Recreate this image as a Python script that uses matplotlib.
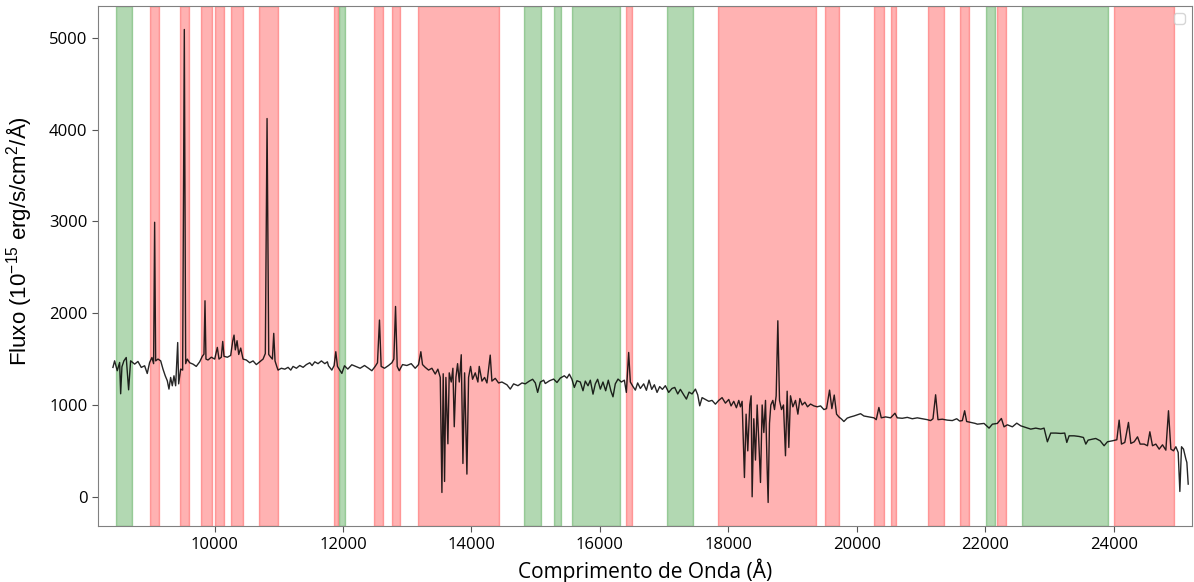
import matplotlib.pyplot as plt

# spectrum (wavelength in Angstrom, flux in 1e-15 erg/s/cm2/A)
wave = [8419, 8445, 8486, 8523, 8539, 8559, 8590, 8626, 8663, 8694, 8757, 8808, 8860, 8912,
        8953, 8990, 9026, 9052, 9068, 9084, 9120, 9162, 9198, 9233, 9265, 9291, 9317, 9343,
        9369, 9395, 9427, 9442, 9473, 9504, 9530, 9551, 9576, 9613, 9665, 9716, 9769, 9810,
        9836, 9852, 9867, 9899, 9950, 10003, 10044, 10070, 10106, 10128, 10148, 10200, 10252,
        10284, 10304, 10324, 10351, 10377, 10408, 10444, 10495, 10548, 10600, 10651, 10704,
        10756, 10791, 10818, 10844, 10876, 10901, 10922, 10942, 10969, 10989, 11041, 11094,
        11145, 11187, 11223, 11275, 11327, 11379, 11430, 11483, 11519, 11561, 11612, 11664,
        11717, 11757, 11774, 11826, 11862, 11888, 11914, 11956, 11982, 12023, 12075, 12137,
        12200, 12267, 12335, 12397, 12449, 12501, 12537, 12568, 12594, 12646, 12709, 12761,
        12792, 12818, 12844, 12875, 12927, 12994, 13062, 13124, 13176, 13212, 13238, 13280,
        13332, 13384, 13436, 13477, 13514, 13540, 13560, 13581, 13602, 13633, 13654, 13685,
        13711, 13732, 13758, 13784, 13810, 13841, 13867, 13893, 13929, 13955, 13986, 14017,
        14059, 14100, 14121, 14163, 14204, 14241, 14292, 14318, 14370, 14422, 14474, 14552,
        14604, 14656, 14723, 14786, 14838, 14900, 14952, 14994, 15030, 15072, 15124, 15149,
        15216, 15279, 15331, 15383, 15445, 15486, 15523, 15564, 15601, 15642, 15694, 15736,
        15772, 15814, 15850, 15892, 15928, 15964, 16006, 16047, 16089, 16130, 16172, 16203,
        16239, 16281, 16333, 16380, 16411, 16447, 16473, 16515, 16551, 16587, 16629, 16681,
        16723, 16764, 16806, 16847, 16889, 16930, 16972, 17018, 17070, 17122, 17164, 17211,
        17252, 17304, 17346, 17387, 17434, 17486, 17522, 17553, 17590, 17642, 17694, 17745,
        17797, 17849, 17901, 17953, 18005, 18041, 18083, 18124, 18161, 18187, 18213, 18249,
        18275, 18301, 18332, 18353, 18369, 18395, 18421, 18447, 18473, 18499, 18525, 18551,
        18577, 18603, 18618, 18639, 18660, 18691, 18717, 18743, 18769, 18795, 18826, 18857,
        18888, 18914, 18940, 18966, 19003, 19044, 19081, 19112, 19148, 19190, 19231, 19278,
        19330, 19382, 19434, 19486, 19527, 19574, 19610, 19647, 19683, 19719, 19761, 19797,
        19849, 19901, 19953, 20005, 20057, 20109, 20187, 20265, 20301, 20342, 20379, 20446,
        20524, 20592, 20628, 20706, 20784, 20862, 20940, 21018, 21095, 21147, 21184, 21225,
        21262, 21329, 21407, 21485, 21553, 21599, 21641, 21677, 21708, 21770, 21838, 21875,
        21979, 22057, 22109, 22186, 22249, 22290, 22342, 22420, 22488, 22550, 22628, 22706,
        22784, 22862, 22913, 22965, 23017, 23095, 23173, 23235, 23267, 23303, 23381, 23459,
        23526, 23563, 23599, 23667, 23718, 23786, 23848, 23900, 23978, 24046, 24082, 24118,
        24170, 24227, 24264, 24316, 24368, 24409, 24471, 24523, 24560, 24601, 24653, 24705,
        24757, 24809, 24850, 24887, 24928, 24965, 25001, 25027, 25053, 25084, 25121, 25136,
        25157]
flux = [1409, 1481, 1373, 1463, 1122, 1416, 1481, 1517, 1165, 1481, 1445, 1474, 1409, 1427,
        1343, 1463, 1517, 1450, 2990, 1480, 1500, 1481, 1391, 1318, 1264, 1173, 1300, 1209,
        1318, 1209, 1680, 1230, 1391, 1380, 5090, 1450, 1500, 1460, 1445, 1420, 1470, 1530,
        1554, 2135, 1500, 1490, 1520, 1500, 1627, 1500, 1520, 1692, 1530, 1520, 1540,
        1699, 1761, 1600, 1700, 1550, 1620, 1500, 1490, 1460, 1480, 1440, 1470,
        1500, 1560, 4120, 1550, 1520, 1500, 1780, 1480, 1420, 1380, 1400, 1390,
        1410, 1380, 1420, 1400, 1430, 1410, 1440, 1460, 1430, 1470, 1450, 1480,
        1450, 1470, 1427, 1380, 1430, 1580, 1420, 1373, 1344, 1427, 1391, 1438,
        1420, 1400, 1430, 1400, 1373, 1420, 1460, 1925, 1420, 1400, 1430, 1460,
        1500, 2073, 1420, 1373, 1440, 1430, 1450, 1400, 1440, 1580, 1440, 1410,
        1380, 1400, 1337, 1390, 1300, 47, 1340, 167, 1300, 577, 1350, 1250,
        1400, 763, 1300, 1450, 1250, 1547, 363, 1350, 247, 1300, 1420, 1280,
        1350, 1250, 1420, 1260, 1300, 1240, 1543, 1260, 1290, 1240, 1250, 1220,
        1173, 1230, 1210, 1240, 1230, 1260, 1280, 1240, 1137, 1250, 1270, 1234,
        1264, 1282, 1245, 1293, 1318, 1293, 1336, 1280, 1191, 1264, 1250, 1155,
        1260, 1209, 1270, 1118, 1230, 1280, 1173, 1250, 1155, 1270, 1150, 1089,
        1230, 1282, 1250, 1270, 1137, 1572, 1250, 1200, 1162, 1240, 1180, 1230,
        1160, 1271, 1170, 1220, 1137, 1200, 1170, 1210, 1137, 1180, 1191, 1120,
        1170, 1110, 1064, 1140, 1120, 1173, 1110, 991, 1080, 1060, 1040, 1050,
        1009, 1050, 1080, 1020, 1060, 990, 1040, 970, 1050, 980, 1040, 210,
        900, 500, 1000, 1100, 0, 850, 400, 1000, 600, 156, 1000, 700,
        1050, 300, -62, 800, 1000, 1050, 950, 1100, 1917, 1050, 950, 1000,
        447, 1150, 537, 1100, 980, 1050, 900, 1070, 1000, 1030, 980, 1010,
        990, 980, 990, 950, 960, 1162, 960, 1108, 900, 870, 846, 820,
        857, 870, 880, 893, 905, 880, 870, 860, 840, 973, 860, 870,
        860, 910, 860, 855, 865, 850, 860, 850, 840, 830, 850, 1111,
        840, 845, 835, 830, 850, 825, 830, 937, 820, 810, 800, 791,
        799, 748, 791, 799, 853, 762, 784, 762, 802, 773, 755, 737,
        748, 737, 748, 599, 694, 694, 690, 694, 592, 664, 664, 657,
        646, 574, 617, 628, 635, 610, 556, 599, 610, 621, 835, 574,
        592, 810, 581, 599, 653, 574, 574, 556, 708, 556, 574, 519,
        566, 508, 937, 519, 501, 545, 483, 58, 545, 519, 410, 374,
        138]

# masked regions (start, end) in Angstrom
green_spans = [(8474, 8715), (11939, 12028), (14821, 15090), (15277, 15393), (15558, 16316),
               (17044, 17449), (22006, 22153), (22567, 23913)]
red_spans = [(8995, 9140), (9463, 9603), (9785, 9956), (10012, 10148), (10257, 10439),
             (10698, 10984), (11857, 11919), (12484, 12620), (12765, 12889), (13174, 14431),
             (16399, 16498), (17838, 19366), (19509, 19723), (20268, 20418), (20537, 20615),
             (21114, 21352), (21601, 21752), (22178, 22313), (24000, 24941)]

xticks = [10000, 12000, 14000, 16000, 18000, 20000, 22000, 24000]
yticks = [0, 1000, 2000, 3000, 4000, 5000]

plt.rcParams['mathtext.default'] = 'regular'

fig = plt.figure(figsize=(11.94, 5.82), dpi=100)
ax = fig.add_axes([0.082, 0.096, 0.916, 0.894])

for a, b in green_spans:
    ax.axvspan(a, b, color='green', alpha=0.3)
for a, b in red_spans:
    ax.axvspan(a, b, color='red', alpha=0.3)

ax.plot(wave, flux, color='black', linewidth=1.0, alpha=0.85)

ax.set_xlim(8185, 25210)
ax.margins(y=0.05)
ax.set_xticks(xticks)
ax.set_yticks(yticks)

for lab in ax.get_xticklabels() + ax.get_yticklabels():
    lab.set_fontfamily('Open Sans')
    lab.set_fontsize(12)
ax.tick_params(length=4, color='#555555')
for sp in ax.spines.values():
    sp.set_color('#808080')

ax.set_xlabel('Comprimento de Onda (Å)', fontsize=15, family='Open Sans')
ax.set_ylabel('Fluxo (10$^{-15}$ erg/s/cm$^2$/Å)', fontsize=16, family='Liberation Sans')
ax.yaxis.set_label_coords(-0.058, 0.548)

ax.legend(handles=[], loc='upper right')

fig.savefig('out.png', dpi=100)
